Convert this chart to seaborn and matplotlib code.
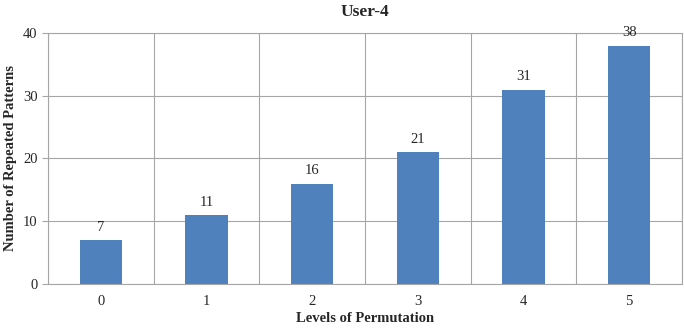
import matplotlib
matplotlib.use('Agg')
import matplotlib.pyplot as plt
import seaborn as sns
import pandas as pd

levels = ["0", "1", "2", "3", "4", "5"]
counts = [7, 11, 16, 21, 31, 38]

df = pd.DataFrame({"level": levels, "count": counts})

sns.set_style("white")
plt.rcParams['font.family'] = ['Liberation Serif', 'DejaVu Serif']

fig = plt.figure(figsize=(6.84, 3.34), dpi=100)
ax = fig.add_axes([0.070, 0.150, 0.927, 0.751])
sns.barplot(data=df, x="level", y="count", color="#4F81BD", saturation=1,
            width=0.4, edgecolor="none", ax=ax)

for i, v in enumerate(counts):
    ax.text(i, v + 1.0, str(v), ha="center", va="bottom", fontsize=10.5)

ax.set_xlim(-0.5, 5.5)
ax.set_ylim(0, 40)
ax.set_yticks([0, 10, 20, 30, 40])
ax.set_xticks([x + 0.5 for x in range(-1, 6)], minor=True)
ax.grid(axis="y", color="#A6A6A6", linewidth=0.8)
ax.grid(axis="x", which="minor", color="#A6A6A6", linewidth=0.8)
ax.set_axisbelow(True)
for s in ax.spines.values():
    s.set_color("#A6A6A6")
    s.set_linewidth(0.8)
ax.tick_params(axis="x", which="major", length=0, labelsize=10.5, pad=8)
ax.tick_params(axis="x", which="minor", length=4, color="#A6A6A6", direction="out")
ax.tick_params(axis="y", length=4, color="#A6A6A6", labelsize=10.5, left=True)

ax.set_title("User-4", fontsize=12.5, fontweight="bold", pad=12)
ax.set_xlabel("Levels of Permutation", fontsize=10.5, fontweight="bold", labelpad=3)
ax.set_ylabel("Number of Repeated Patterns", fontsize=10.5, fontweight="bold", labelpad=4)

fig.savefig("out.png", dpi=100)
